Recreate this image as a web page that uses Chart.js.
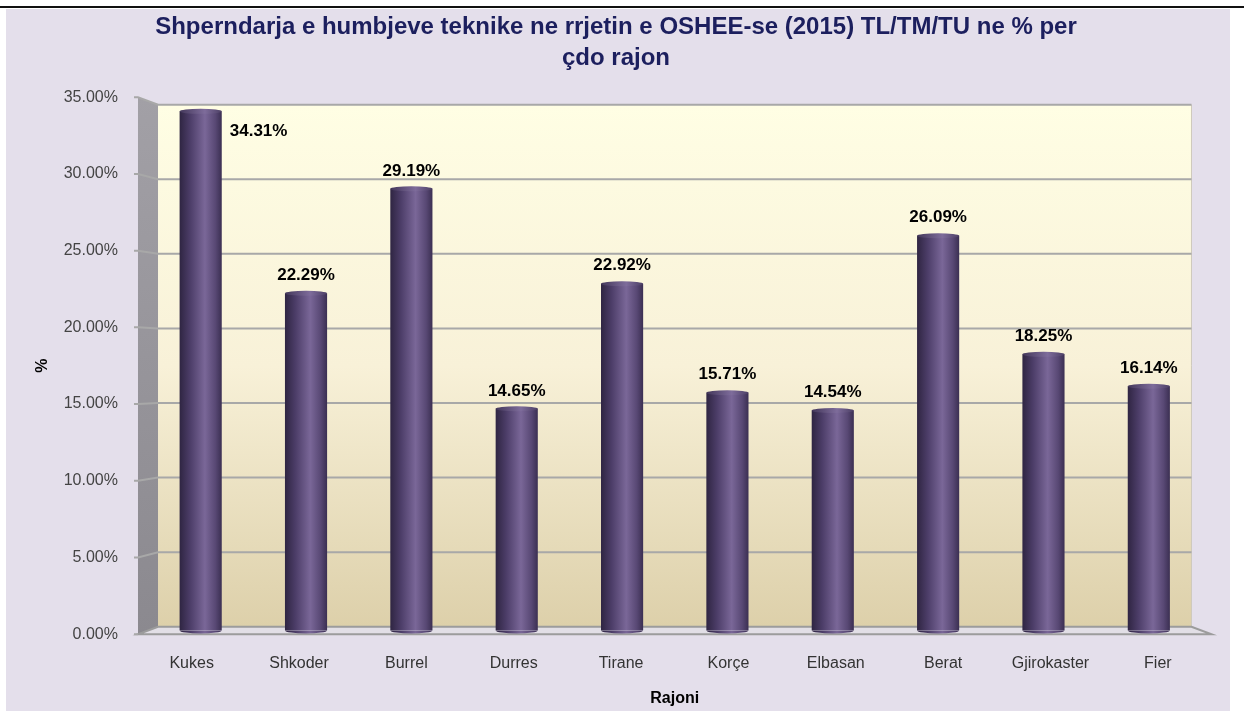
<!DOCTYPE html>
<html>
<head>
<meta charset="utf-8">
<title>Humbjet teknike sipas rajonit</title>
<script src="https://cdn.jsdelivr.net/npm/chart.js@4.4.1/dist/chart.umd.min.js"></script>
<style>
  html, body { margin: 0; padding: 0; background: #fff; }
  canvas { display: block; }
</style>
</head>
<body>
<canvas id="lossChart" width="1244" height="711"></canvas>
<script>
// Data
const regions = ['Kukes', 'Shkoder', 'Burrel', 'Durres', 'Tirane', 'Korçe', 'Elbasan', 'Berat', 'Gjirokaster', 'Fier'];
const lossPct = [34.31, 22.29, 29.19, 14.65, 22.92, 15.71, 14.54, 26.09, 18.25, 16.14];
const yMax = 35;
const yStep = 5;
const titleLines = ['Shperndarja e humbjeve teknike ne rrjetin e OSHEE-se (2015) TL/TM/TU ne % per', 'çdo rajon'];

const FONT = '"Liberation Sans", Arial, Helvetica, sans-serif';
const BAR_PCT = 0.4;

// fake 3D box: chart area is the middle plane, front/back planes are
// scaled around the centre of the chart area
const FRONT = { kx: 1.019, ky: 1.014 };
const BACK = { kx: 0.981, ky: 0.986 };

function toPlane(area, x, y, k) {
  const cx = (area.left + area.right) / 2;
  const cy = (area.top + area.bottom) / 2;
  return { x: cx + (x - cx) * k.kx, y: cy + (y - cy) * k.ky };
}

function barGradient(ctx, x, half) {
  const g = ctx.createLinearGradient(x - half, 0, x + half, 0);
  g.addColorStop(0, '#2f2542');
  g.addColorStop(0.25, '#4c3d68');
  g.addColorStop(0.6, '#7a6798');
  g.addColorStop(0.85, '#584874');
  g.addColorStop(1, '#3b2f52');
  return g;
}

const box3d = {
  id: 'box3d',
  beforeDraw(chart) {
    const ctx = chart.ctx;
    const a = chart.chartArea;
    const yScale = chart.scales.y;
    ctx.save();
    // page + panel
    ctx.fillStyle = '#ffffff';
    ctx.fillRect(0, 0, chart.width, chart.height);
    ctx.fillStyle = '#111111';
    ctx.fillRect(0, 6, chart.width, 2);
    ctx.fillStyle = '#e4dfeb';
    ctx.fillRect(6, 9, 1224, chart.height - 9);

    const fTL = toPlane(a, a.left, a.top, FRONT);
    const fBL = toPlane(a, a.left, a.bottom, FRONT);
    const fBR = toPlane(a, a.right, a.bottom, FRONT);
    const bTL = toPlane(a, a.left, a.top, BACK);
    const bBL = toPlane(a, a.left, a.bottom, BACK);
    const bBR = toPlane(a, a.right, a.bottom, BACK);
    const bTR = toPlane(a, a.right, a.top, BACK);

    // back wall
    const wall = ctx.createLinearGradient(0, bTL.y, 0, bBL.y);
    wall.addColorStop(0, '#fffee4');
    wall.addColorStop(0.5, '#f8f1d8');
    wall.addColorStop(1, '#ddd0aa');
    ctx.fillStyle = wall;
    ctx.fillRect(bTL.x, bTL.y, bTR.x - bTL.x, bBL.y - bTL.y);
    ctx.strokeStyle = '#cfcabd';
    ctx.lineWidth = 1;
    ctx.beginPath();
    ctx.moveTo(bTR.x, bTR.y);
    ctx.lineTo(bBR.x, bBR.y);
    ctx.stroke();

    // side wall
    const side = ctx.createLinearGradient(0, fTL.y, 0, fBL.y);
    side.addColorStop(0, '#a2a0a6');
    side.addColorStop(1, '#8b898f');
    ctx.fillStyle = side;
    ctx.beginPath();
    ctx.moveTo(fTL.x, fTL.y);
    ctx.lineTo(bTL.x, bTL.y);
    ctx.lineTo(bBL.x, bBL.y);
    ctx.lineTo(fBL.x, fBL.y);
    ctx.closePath();
    ctx.fill();

    // floor
    ctx.fillStyle = '#e2dfe6';
    ctx.strokeStyle = '#9c9c9c';
    ctx.lineWidth = 2;
    ctx.beginPath();
    ctx.moveTo(bBL.x, bBL.y);
    ctx.lineTo(bBR.x, bBR.y);
    ctx.lineTo(fBR.x, fBR.y);
    ctx.lineTo(fBL.x, fBL.y);
    ctx.closePath();
    ctx.fill();
    ctx.stroke();

    // gridlines across side wall and back wall, with front tick marks
    ctx.strokeStyle = '#a8a8a8';
    ctx.lineWidth = 2;
    yScale.ticks.forEach(t => {
      const py = yScale.getPixelForValue(t.value);
      const f = toPlane(a, a.left, py, FRONT);
      const b = toPlane(a, a.left, py, BACK);
      const br = toPlane(a, a.right, py, BACK);
      ctx.beginPath();
      ctx.moveTo(f.x - 4, f.y);
      ctx.lineTo(f.x, f.y);
      if (t.value > 0) {
        ctx.lineTo(b.x, b.y);
        ctx.lineTo(br.x, br.y);
      }
      ctx.stroke();
    });
    ctx.restore();
  },
  afterDatasetsDraw(chart) {
    const ctx = chart.ctx;
    const a = chart.chartArea;
    const meta = chart.getDatasetMeta(0);
    ctx.save();
    meta.data.forEach((bar, i) => {
      const half = bar.width / 2;
      // rounded foot
      ctx.fillStyle = barGradient(ctx, bar.x, half);
      ctx.beginPath();
      ctx.ellipse(bar.x, bar.base, half, 3, 0, 0, Math.PI);
      ctx.fill();
      // top cap
      const cap = ctx.createLinearGradient(bar.x - half, 0, bar.x + half, 0);
      cap.addColorStop(0, '#43375a');
      cap.addColorStop(0.6, '#7e6c9b');
      cap.addColorStop(1, '#4c3f65');
      ctx.fillStyle = cap;
      ctx.beginPath();
      ctx.ellipse(bar.x, bar.y, half, 2.5, 0, 0, Math.PI * 2);
      ctx.fill();

      // value label
      const txt = lossPct[i].toFixed(2) + '%';
      ctx.font = 'bold 17px ' + FONT;
      ctx.fillStyle = '#000000';
      ctx.textBaseline = 'middle';
      const ly = bar.y - 18;
      if (ly - 10 < a.top) {
        ctx.textAlign = 'left';
        ctx.fillText(txt, bar.x + half + 8, bar.y + 20);
      } else {
        ctx.textAlign = 'center';
        ctx.fillText(txt, bar.x, ly);
      }
    });
    ctx.restore();
  },
  afterDraw(chart) {
    // tick labels sit on the front plane of the box
    const ctx = chart.ctx;
    const a = chart.chartArea;
    const xScale = chart.scales.x;
    const yScale = chart.scales.y;
    ctx.save();
    ctx.font = '16px ' + FONT;
    ctx.textBaseline = 'middle';
    ctx.fillStyle = '#444444';
    ctx.textAlign = 'right';
    yScale.ticks.forEach(t => {
      const f = toPlane(a, a.left, yScale.getPixelForValue(t.value), FRONT);
      ctx.fillText(t.value.toFixed(2) + '%', f.x - 20, f.y);
    });
    ctx.fillStyle = '#333333';
    ctx.textAlign = 'center';
    const fBottom = toPlane(a, a.left, a.bottom, FRONT).y;
    regions.forEach((r, i) => {
      const f = toPlane(a, xScale.getPixelForValue(i), a.bottom, FRONT);
      ctx.fillText(r, f.x, fBottom + 29);
    });
    ctx.restore();
  }
};

new Chart(document.getElementById('lossChart'), {
  type: 'bar',
  data: {
    labels: regions,
    datasets: [{
      data: lossPct,
      backgroundColor: (c) => {
        const chart = c.chart;
        const area = chart.chartArea;
        if (!area || c.type !== 'data') return '#5a4a78';
        const x = chart.scales.x.getPixelForValue(c.dataIndex);
        const half = (area.right - area.left) / regions.length * BAR_PCT / 2;
        return barGradient(chart.ctx, x, half);
      },
      borderWidth: 0,
      barPercentage: BAR_PCT,
      categoryPercentage: 1
    }]
  },
  options: {
    responsive: false,
    animation: false,
    devicePixelRatio: 1,
    layout: { padding: { left: 30.5, right: 42.5, top: 0, bottom: 0 } },
    plugins: {
      legend: { display: false },
      tooltip: { enabled: false },
      title: {
        display: true,
        text: titleLines,
        color: '#1c1f5e',
        font: { family: FONT, size: 24, weight: 'bold', lineHeight: 1.29 },
        padding: { top: 11.5, bottom: 27.5 }
      }
    },
    scales: {
      x: {
        grid: { display: false },
        border: { display: false },
        ticks: { display: false },
        afterFit: (s) => { s.height = 80.5; },
        title: {
          display: true,
          text: 'Rajoni',
          color: '#000000',
          font: { family: FONT, size: 16, weight: 'bold', lineHeight: 1.2 },
          padding: { top: 0, bottom: 2.4 }
        }
      },
      y: {
        min: 0,
        max: yMax,
        grid: { display: false },
        border: { display: false },
        ticks: { display: false, stepSize: yStep },
        afterFit: (s) => { s.width = 117.5; },
        title: {
          display: true,
          text: '%',
          color: '#000000',
          font: { family: FONT, size: 16, weight: 'bold', lineHeight: 1.2 },
          padding: { top: 2, bottom: 0 }
        }
      }
    }
  },
  plugins: [box3d]
});
</script>
</body>
</html>
